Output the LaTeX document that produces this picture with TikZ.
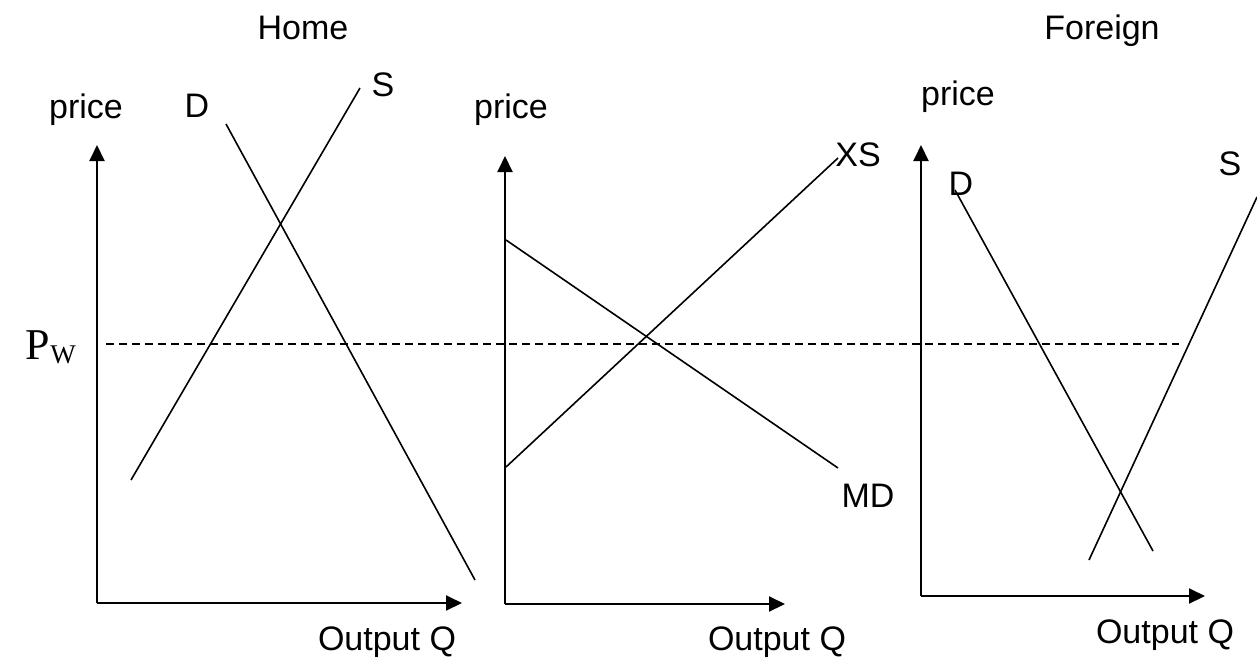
\documentclass[tikz,border=0pt]{standalone}
\usepackage{fontspec}
\setmainfont{Liberation Sans}
\newfontfamily\pwfont{Liberation Serif}
\usetikzlibrary{arrows.meta}

\begin{document}
\begin{tikzpicture}[
    x=1pt, y=-1pt,
    font=\fontsize{34}{38}\selectfont,
    line width=1.6pt,
    axis/.style={-{Triangle[length=16pt, width=15pt]}, line width=2pt},
    curve/.style={line width=1.6pt},
    lbl/.style={anchor=base, inner sep=0pt}
]
    \useasboundingbox (0,0) rectangle (1257,659);

    % Coordinates
    \coordinate (home_o)  at (97, 603);
    \coordinate (home_y)  at (97, 145);
    \coordinate (home_x)  at (462, 603);
    \coordinate (mid_o)   at (505, 604);
    \coordinate (mid_y)   at (505, 156);
    \coordinate (mid_x)   at (785, 604);
    \coordinate (for_o)   at (921, 596);
    \coordinate (for_y)   at (921, 145);
    \coordinate (for_x)   at (1205, 596);

    \coordinate (hd_top)  at (226, 124);
    \coordinate (hd_bot)  at (475, 580);
    \coordinate (hs_top)  at (360, 88);
    \coordinate (hs_bot)  at (131, 480);
    \coordinate (md_top)  at (506, 240);
    \coordinate (md_bot)  at (838, 468);
    \coordinate (xs_top)  at (838, 158);
    \coordinate (xs_bot)  at (506, 467);
    \coordinate (fd_top)  at (955, 190);
    \coordinate (fd_bot)  at (1153, 551);
    \coordinate (fs_top)  at (1257, 197);
    \coordinate (fs_bot)  at (1089, 560);

    \coordinate (pw_left)  at (106, 344);
    \coordinate (pw_right) at (1179, 344);

    % Axes
    \draw[axis] (home_o) -- (home_y);
    \draw[axis] (home_o) -- (home_x);
    \draw[axis] (mid_o) -- (mid_y);
    \draw[axis] (mid_o) -- (mid_x);
    \draw[axis] (for_o) -- (for_y);
    \draw[axis] (for_o) -- (for_x);

    % Demand and supply curves
    \draw[curve] (hd_top) -- (hd_bot);
    \draw[curve] (hs_bot) -- (hs_top);
    \draw[curve] (md_top) -- (md_bot);
    \draw[curve] (xs_bot) -- (xs_top);
    \draw[curve] (fd_top) -- (fd_bot);
    \draw[curve] (fs_bot) -- (fs_top);

    % World price
    \draw[dash pattern=on 8pt off 5pt, line width=1.4pt] (pw_left) -- (pw_right);
    \node[lbl, anchor=base west] (pw) at (25, 359)
        {\pwfont\fontsize{44}{48}\selectfont P\raisebox{-4pt}{\fontsize{27}{30}\selectfont W}};

    % Labels
    \node[lbl] (home)    at (303, 39)  {Home};
    \node[lbl] (foreign) at (1102, 39) {Foreign};
    \node[lbl] (h_price) at (86, 118)  {price};
    \node[lbl] (m_price) at (511, 118) {price};
    \node[lbl] (f_price) at (958, 105) {price};
    \node[lbl] (h_d)     at (197, 117) {D};
    \node[lbl] (h_s)     at (383, 96)  {S};
    \node[lbl] (xs)      at (858, 166) {XS};
    \node[lbl] (md)      at (868, 507) {MD};
    \node[lbl] (f_d)     at (961, 195) {D};
    \node[lbl] (f_s)     at (1230, 175) {S};
    \node[lbl] (h_q)     at (387, 650) {Output Q};
    \node[lbl] (m_q)     at (777, 650) {Output Q};
    \node[lbl] (f_q)     at (1165, 643) {Output Q};

\end{tikzpicture}
\end{document}
